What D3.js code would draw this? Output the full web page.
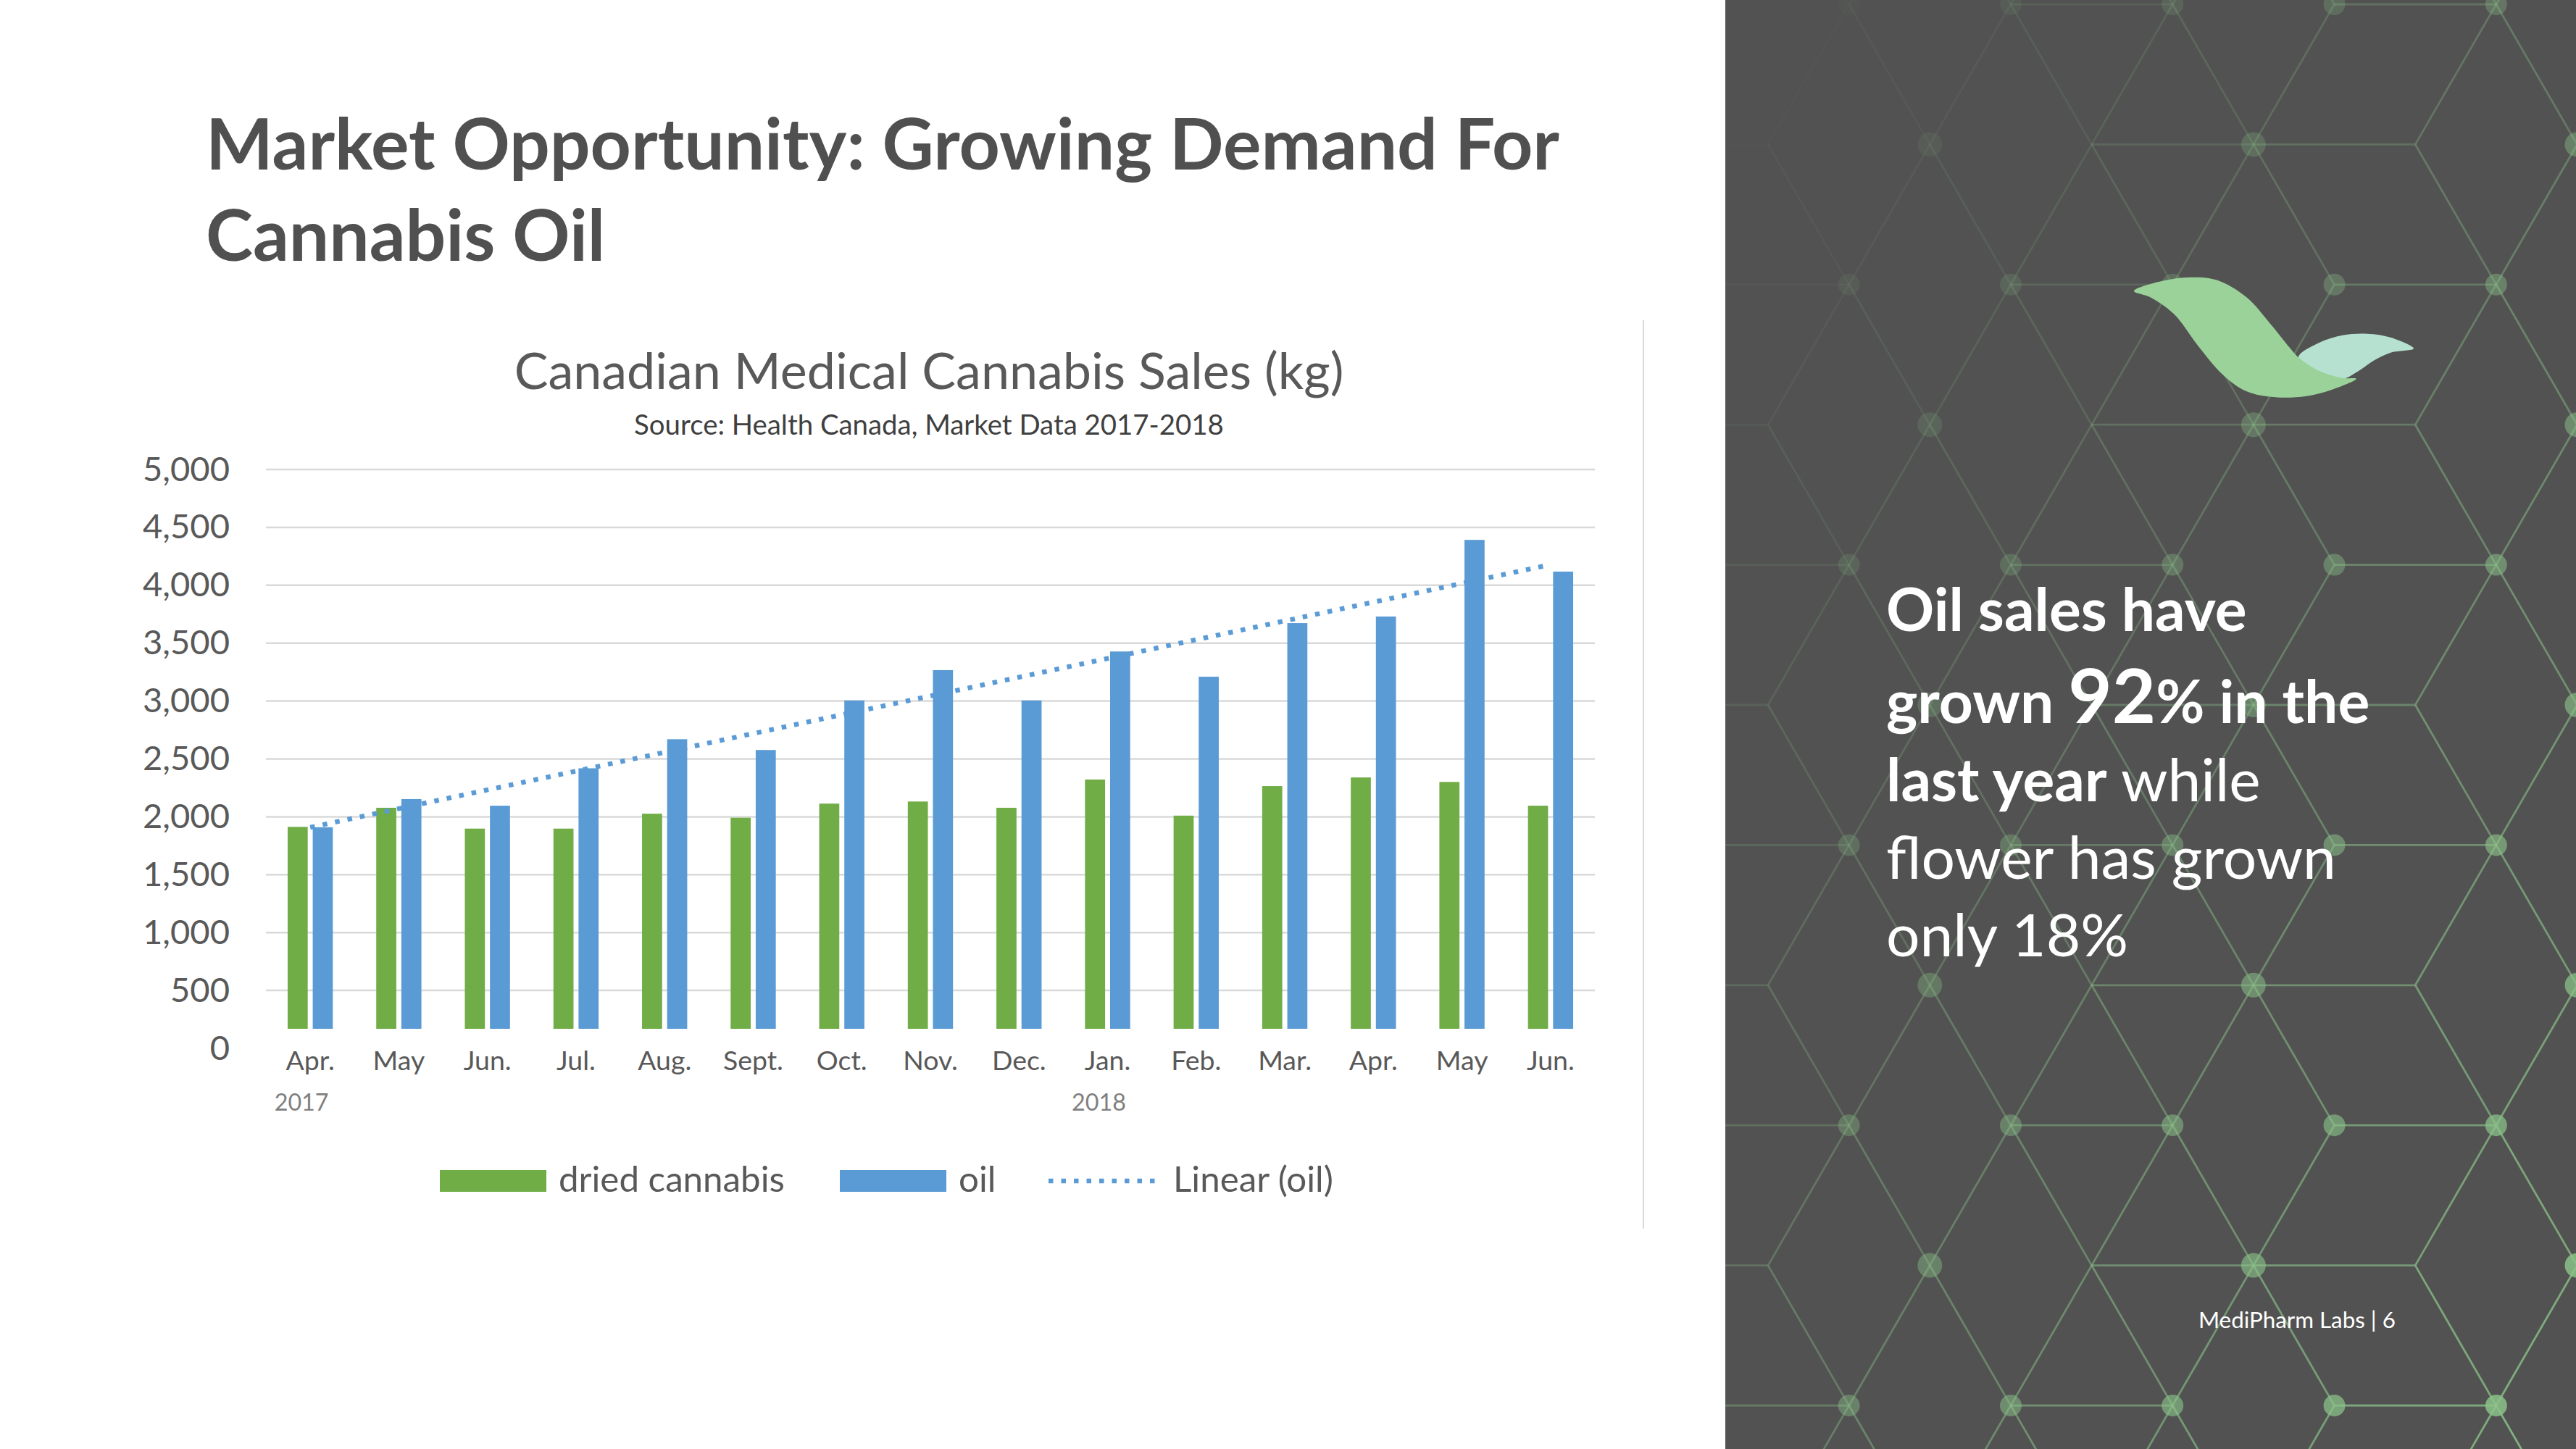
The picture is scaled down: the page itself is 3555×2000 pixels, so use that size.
<!DOCTYPE html>
<html>
<head>
<meta charset="utf-8">
<script src="https://cdn.jsdelivr.net/npm/d3@7"></script>
<style>
html,body{margin:0;padding:0;background:#fff;}
svg{display:block;}
text{font-family:Lato,"Open Sans",sans-serif;}
</style>
</head>
<body>
<script>
// ---------- data ----------
const months = ["Apr.","May","Jun.","Jul.","Aug.","Sept.","Oct.","Nov.","Dec.","Jan.","Feb.","Mar.","Apr.","May","Jun."];
const yearIndex = [0, 9];
const yearText = ["2017", "2018"];
const dried = [1913,2078,1898,1898,2027,1992,2114,2132,2078,2322,2010,2265,2340,2301,2096];
const oil   = [1910,2153,2096,2419,2670,2577,3005,3267,3005,3428,3210,3673,3730,4392,4118];
const yTicks = [0,500,1000,1500,2000,2500,3000,3500,4000,4500,5000];
const seriesKeys = ["dried","oil"];
const seriesLabels = ["dried cannabis","oil"];
const trendLabel = "Linear (oil)";
const seriesColors = {dried:"#70ad47", oil:"#5b9bd5"};

const W = 3555, H = 2000;
const svg = d3.select("body").append("svg").attr("width", W).attr("height", H);
svg.append("rect").attr("width", W).attr("height", H).attr("fill", "#ffffff");

function fit(sel, target){
  const w = sel.node().getComputedTextLength();
  const fs = parseFloat(sel.attr("font-size"));
  const nf = fs * target / w;
  sel.attr("font-size", nf);
  return nf;
}

// ---------- slide title ----------
const t1 = svg.append("text").attr("x", 284).attr("y", 234).attr("font-size", 100)
  .attr("font-weight", 700).attr("fill", "#505050").text("Market Opportunity: Growing Demand For");
const tfs = fit(t1, 1868);
svg.append("text").attr("x", 284).attr("y", 360).attr("font-size", tfs)
  .attr("font-weight", 700).attr("fill", "#505050").text("Cannabis Oil");

// ---------- chart ----------
const plotL = 367, plotR = 2201, yTop = 648, yZero = 1447, barBottom = 1420;
const x0 = d3.scaleBand().domain(d3.range(months.length)).range([plotL, plotR])
  .paddingInner(0.49).paddingOuter(0.245);
const x1 = d3.scaleBand().domain(seriesKeys).range([0, x0.bandwidth()]).paddingInner(0.2);
const y = d3.scaleLinear().domain([0, 5000]).range([yZero, yTop]);

const ct = svg.append("text").attr("x", 1282).attr("y", 537).attr("text-anchor", "middle")
  .attr("font-size", 70).attr("fill", "#595959").text("Canadian Medical Cannabis Sales (kg)");
fit(ct, 1145);
const st = svg.append("text").attr("x", 1282).attr("y", 600).attr("text-anchor", "middle")
  .attr("font-size", 36).attr("fill", "#404040").text("Source: Health Canada, Market Data 2017-2018");
fit(st, 814);

// gridlines
svg.append("g").selectAll("line").data(yTicks.filter(d => d > 0)).join("line")
  .attr("x1", plotL).attr("x2", plotR)
  .attr("y1", d => y(d)).attr("y2", d => y(d))
  .attr("stroke", "#d9d9d9").attr("stroke-width", 2.5);

// y axis
const yAxis = svg.append("g").attr("transform", `translate(${plotL},0)`)
  .call(d3.axisLeft(y).tickValues(yTicks).tickSize(0).tickPadding(50).tickFormat(d3.format(",")));
yAxis.select(".domain").remove();
yAxis.selectAll("text").attr("font-family", "Lato").attr("fill", "#595959").attr("font-size", 50);
{
  const ref = yAxis.selectAll("text").filter(d => d === 5000);
  const fs = fit(ref, 120);
  yAxis.selectAll("text").attr("font-size", fs);
}

// bars
svg.append("defs").append("clipPath").attr("id", "plotclip")
  .append("rect").attr("x", 0).attr("y", 0).attr("width", W).attr("height", barBottom);
const rows = months.map((m, i) => ({i, dried: dried[i], oil: oil[i]}));
svg.append("g").attr("clip-path", "url(#plotclip)")
  .selectAll("g").data(rows).join("g")
  .attr("transform", d => `translate(${x0(d.i)},0)`)
  .selectAll("rect").data(d => seriesKeys.map(k => ({k, v: d[k]}))).join("rect")
  .attr("x", d => x1(d.k)).attr("width", x1.bandwidth())
  .attr("y", d => y(d.v)).attr("height", d => y(0) - y(d.v))
  .attr("fill", d => seriesColors[d.k]);

// linear trendline (least squares on oil)
const n = oil.length, xs = d3.range(n);
const mx = d3.mean(xs), my = d3.mean(oil);
const slope = d3.sum(xs, i => (i - mx) * (oil[i] - my)) / d3.sum(xs, i => (i - mx) ** 2);
const icpt = my - slope * mx;
const trend = [0, n - 1].map(i => ({i, v: icpt + slope * i}));
svg.append("path").datum(trend)
  .attr("d", d3.line().x(d => x0(d.i) + x0.bandwidth() / 2).y(d => y(d.v)))
  .attr("fill", "none").attr("stroke", "#5b9bd5").attr("stroke-width", 6.5)
  .attr("stroke-dasharray", "6.5,11");

// x axis
const xAxis = svg.append("g").attr("transform", `translate(0,1477)`)
  .call(d3.axisBottom(x0).tickSize(0).tickFormat(i => months[i]));
xAxis.select(".domain").remove();
xAxis.selectAll("text").attr("y", 0).attr("dy", 0).attr("font-family", "Lato")
  .attr("fill", "#595959").attr("font-size", 38);
{
  const ref = xAxis.selectAll("text").filter(i => i === 5);
  const fs = fit(ref, 83);
  xAxis.selectAll("text").attr("font-size", fs);
}
// year labels
const yl = svg.append("g").selectAll("text").data(yearIndex).join("text")
  .attr("x", (d) => x0(d) + x0.bandwidth() / 2 - 12).attr("y", 1533)
  .attr("text-anchor", "middle").attr("fill", "#808080").attr("font-size", 32)
  .text((d, i) => yearText[i]);
{
  const fs = fit(d3.select(yl.nodes()[0]), 75);
  yl.attr("font-size", fs);
}

// legend
const leg = svg.append("g");
const legRects = [{k:"dried", x:607}, {k:"oil", x:1159}];
leg.selectAll("rect").data(legRects).join("rect")
  .attr("x", d => d.x).attr("y", 1615).attr("width", 147).attr("height", 30)
  .attr("fill", d => seriesColors[d.k]);
const legTexts = [{t: seriesLabels[0], x: 771}, {t: seriesLabels[1], x: 1323}, {t: trendLabel, x: 1619}];
const lt = leg.selectAll("text").data(legTexts).join("text")
  .attr("x", d => d.x).attr("y", 1645).attr("fill", "#595959").attr("font-size", 48).text(d => d.t);
{
  const fs = fit(d3.select(lt.nodes()[0]), 312);
  lt.attr("font-size", fs);
}
leg.append("line").attr("x1", 1447).attr("x2", 1602).attr("y1", 1630).attr("y2", 1630)
  .attr("stroke", "#5b9bd5").attr("stroke-width", 6.5).attr("stroke-dasharray", "6.5,11");

// separator
svg.append("line").attr("x1", 2268).attr("x2", 2268).attr("y1", 442).attr("y2", 1696)
  .attr("stroke", "#d9d9d9").attr("stroke-width", 2);

// ---------- right panel ----------
const PX = 2381;
svg.append("defs").append("clipPath").attr("id", "panelclip")
  .append("rect").attr("x", PX).attr("y", 0).attr("width", W - PX).attr("height", H);
svg.append("rect").attr("x", PX).attr("y", 0).attr("width", W - PX).attr("height", H).attr("fill", "#525252");

const A = 223.3, HH = 193.4, Y0 = 6, XA0 = 2440, XB0 = XA0 - A / 2;
const nodes = [], edges = [];
for (let r = -1; r <= 11; r++) {
  const yy = Y0 + r * HH;
  if (r % 2 === 0) {
    for (let j = -1; j <= 6; j++) {
      const xx = XB0 + j * A;
      nodes.push({x: xx, y: yy, r: 15});
      if (((j % 2) + 2) % 2 === 0) edges.push([xx, yy, xx + A, yy]);
    }
  } else {
    for (let k = -2; k <= 6; k++) {
      const xx = XA0 + k * A;
      const m = ((k % 4) + 4) % 4;
      if (((k % 2) + 2) % 2 === 1) nodes.push({x: xx, y: yy, r: 17});
      if (m === 2 || m === 3) edges.push([xx, yy, xx + A, yy]);
      edges.push([xx, yy, xx + A / 2, yy - HH]);
      edges.push([xx, yy, xx + A / 2, yy + HH]);
      if (m !== 0) {
        edges.push([xx, yy, xx - A / 2, yy - HH]);
        edges.push([xx, yy, xx - A / 2, yy + HH]);
      }
    }
  }
}
function op(x, yv) {
  const u = Math.max(0, Math.min(1, (x - PX) / (W - PX)));
  const v = Math.max(0, Math.min(1, yv / H));
  return 0.9 * Math.pow((u + v) / 2, 1.3);
}
const hex = svg.append("g").attr("clip-path", "url(#panelclip)");
hex.selectAll("line").data(edges).join("line")
  .attr("x1", d => d[0]).attr("y1", d => d[1]).attr("x2", d => d[2]).attr("y2", d => d[3])
  .attr("stroke", "#8cc48a").attr("stroke-width", 2.8)
  .attr("stroke-opacity", d => op((d[0] + d[2]) / 2, (d[1] + d[3]) / 2) * 0.95);
hex.selectAll("circle").data(nodes).join("circle")
  .attr("cx", d => d.x).attr("cy", d => d.y).attr("r", d => d.r)
  .attr("fill", "#8cc48a").attr("fill-opacity", d => op(d.x, d.y));

// leaf logo
const bigLeaf = [[2945,401.7],[2983,388],[3023,382.7],[3060,386.7],[3100,410],[3133,446.7],[3160,480],
  [3172,493.3],[3200,511.7],[3233,521.7],[3252,522.7],[3217,538.3],[3183,546.7],[3140,548.3],
  [3100,540],[3067,516.7],[3033,476.7],[3000,433.3],[2967,410]];
const smallLeaf = [[3172,493.3],[3200,473.3],[3233,462.7],[3267,460.7],[3300,466],[3331,481],
  [3300,486.5],[3277,497],[3253,513.3],[3233,523],[3200,516.7]];
const leafLine = d3.line().curve(d3.curveCatmullRomClosed.alpha(0.5));
svg.append("path").attr("d", leafLine(smallLeaf)).attr("fill", "#b6e0cf");
svg.append("path").attr("d", leafLine(bigLeaf)).attr("fill", "#9bd29a");

// statement text
const tx = 2603;
const lines = [
  {y: 871, parts: [{t: "Oil sales have", b: 1, s: 1}]},
  {y: 998, parts: [{t: "grown ", b: 1, s: 1}, {t: "92", b: 1, s: 1.27}, {t: "% in the", b: 1, s: 1}]},
  {y: 1106, parts: [{t: "last year", b: 1, s: 1}, {t: " while", b: 0, s: 1}]},
  {y: 1213, parts: [{t: "flower has grown", b: 0, s: 1}]},
  {y: 1320, parts: [{t: "only 18%", b: 0, s: 1}]}
];
const base0 = 84;
const ltxt = svg.append("g").selectAll("text").data(lines).join("text")
  .attr("x", tx).attr("y", d => d.y).attr("fill", "#ffffff")
  .attr("font-size", base0).attr("xml:space", "preserve");
ltxt.selectAll("tspan").data(d => d.parts).join("tspan")
  .attr("font-weight", d => d.b ? 700 : 400)
  .attr("font-size", d => base0 * d.s)
  .text(d => d.t);
{
  const ref = d3.select(ltxt.nodes()[3]);
  const w = ref.node().getComputedTextLength();
  const k = 621 / w;
  ltxt.selectAll("tspan").attr("font-size", d => base0 * d.s * k);
}

const ft = svg.append("text").attr("x", 3034).attr("y", 1833).attr("fill", "#ffffff")
  .attr("font-size", 32).text("MediPharm Labs | 6");
fit(ft, 272);
</script>
</body>
</html>
